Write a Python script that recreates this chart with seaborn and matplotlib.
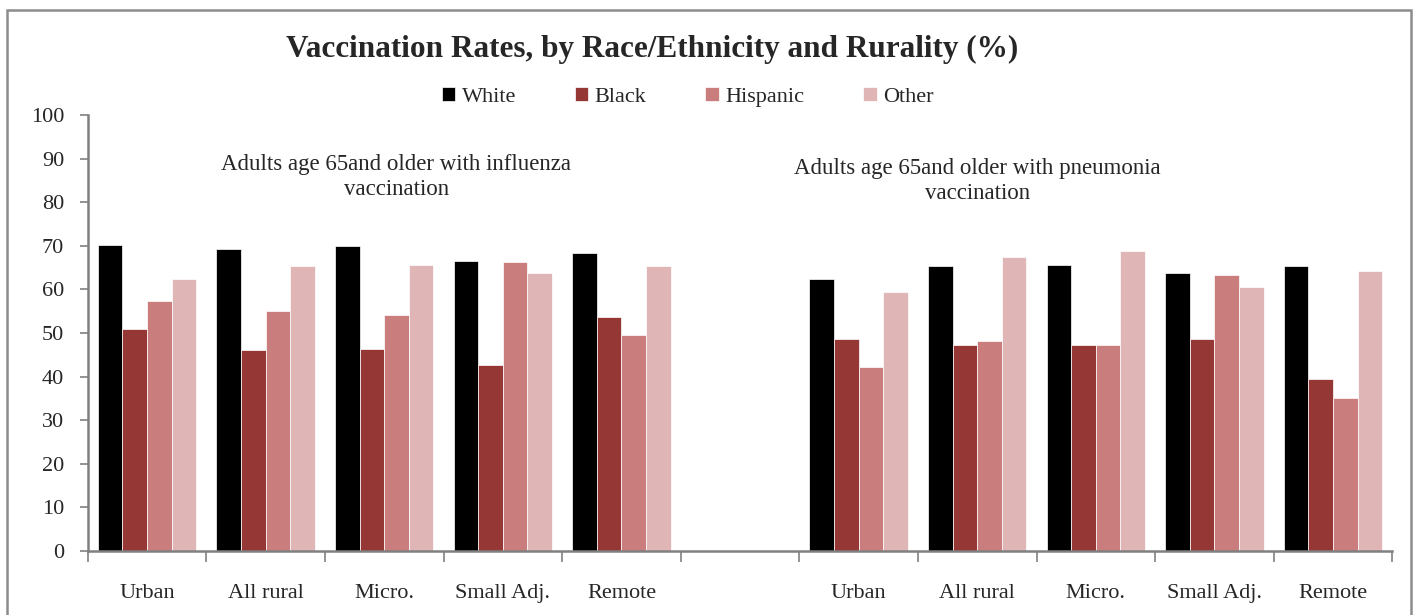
"""
Vaccination rates by race/ethnicity and rurality, grouped bar chart.
"""

import matplotlib
matplotlib.use("Agg")
import matplotlib.pyplot as plt
import seaborn as sns
import pandas as pd

# ---- data -------------------------------------------------------------
areas = ["Urban", "All rural", "Micro.", "Small Adj.", "Remote"]
groups = ["White", "Black", "Hispanic", "Other"]

flu_white = [70.2, 69.3, 69.9, 66.6, 68.4]
flu_black = [50.9, 46.0, 46.4, 42.7, 53.7]
flu_hispanic = [57.4, 55.1, 54.2, 66.2, 49.6]
flu_other = [62.5, 65.3, 65.7, 63.8, 65.3]

pneu_white = [62.5, 65.3, 65.7, 63.8, 65.3]
pneu_black = [48.7, 47.3, 47.3, 48.7, 39.5]
pneu_hispanic = [42.3, 48.2, 47.3, 63.4, 35.0]
pneu_other = [59.3, 67.5, 68.9, 60.6, 64.3]

flu_note = "Adults age 65and older with influenza\nvaccination"
pneu_note = "Adults age 65and older with pneumonia\nvaccination"

palette = {"White": "#000000", "Black": "#953735",
           "Hispanic": "#CA7D7D", "Other": "#DFB5B5"}

# ---- build long table ------------------------------------------------
rows = []
for panel, series in [("flu", [flu_white, flu_black, flu_hispanic, flu_other]),
                      ("pneu", [pneu_white, pneu_black, pneu_hispanic, pneu_other])]:
    for g, vals in zip(groups, series):
        for a, v in zip(areas, vals):
            rows.append({"slot": f"{panel}|{a}", "Group": g, "Rate": v})
df = pd.DataFrame(rows)

order = [f"flu|{a}" for a in areas] + ["gap"] + [f"pneu|{a}" for a in areas]

# ---- plot -------------------------------------------------------------
sns.set_style("white")
plt.rcParams["font.family"] = ["Liberation Serif", "DejaVu Serif"]

fig = plt.figure(figsize=(14.15, 6.15), dpi=100)
ax = fig.add_axes([0.062, 0.104, 0.922, 0.709])

sns.barplot(data=df, x="slot", y="Rate", hue="Group", order=order,
            hue_order=groups, palette=palette, width=0.83,
            edgecolor="white", linewidth=0.5, saturation=1, ax=ax)

ax.set_ylim(0, 100)
ax.set_xlim(-0.5, len(order) - 0.5)
ax.set_yticks(range(0, 101, 10))
ax.tick_params(axis="y", labelsize=16, length=6, width=1.2, color="#808080",
               direction="out", left=True, pad=11)

# tick marks at slot boundaries, labels at slot centres
ax.set_xticks([i - 0.5 for i in range(len(order) + 1)])
ax.set_xticklabels([])
ax.tick_params(axis="x", which="major", length=8, width=1.2, color="#808080",
               direction="out", bottom=True)
ax.set_xticks(range(len(order)), minor=True)
ax.set_xticklabels(areas + [""] + areas, minor=True)
ax.tick_params(axis="x", which="minor", length=0, labelsize=16, pad=24)

ax.set_xlabel("")
ax.set_ylabel("")
for side in ["top", "right"]:
    ax.spines[side].set_visible(False)
for side in ["left", "bottom"]:
    ax.spines[side].set_color("#808080")
    ax.spines[side].set_linewidth(1.8)

ax.text(2.1, 85.8, flu_note, ha="center", va="center", fontsize=16.5,
        linespacing=1.25)
ax.text(7.0, 84.9, pneu_note, ha="center", va="center", fontsize=16.5,
        linespacing=1.25)

handles, labels = ax.get_legend_handles_labels()
ax.legend_.remove()
fig.legend(handles, labels, loc="center", bbox_to_anchor=(0.486, 0.842),
           ncol=4, frameon=False, fontsize=16, handlelength=0.6,
           handleheight=0.6, handletextpad=0.3, columnspacing=2.65)

fig.text(0.461, 0.919, "Vaccination Rates, by Race/Ethnicity and Rurality (%)",
         ha="center", va="center", fontsize=22.5, fontweight="bold")

# outer chart frame
frame = plt.Rectangle((0.005, -0.05), 0.992, 1.033, transform=fig.transFigure,
                      fill=False, edgecolor="#8c8c8c", linewidth=1.8)
fig.add_artist(frame)

fig.savefig("out.png", dpi=100)
